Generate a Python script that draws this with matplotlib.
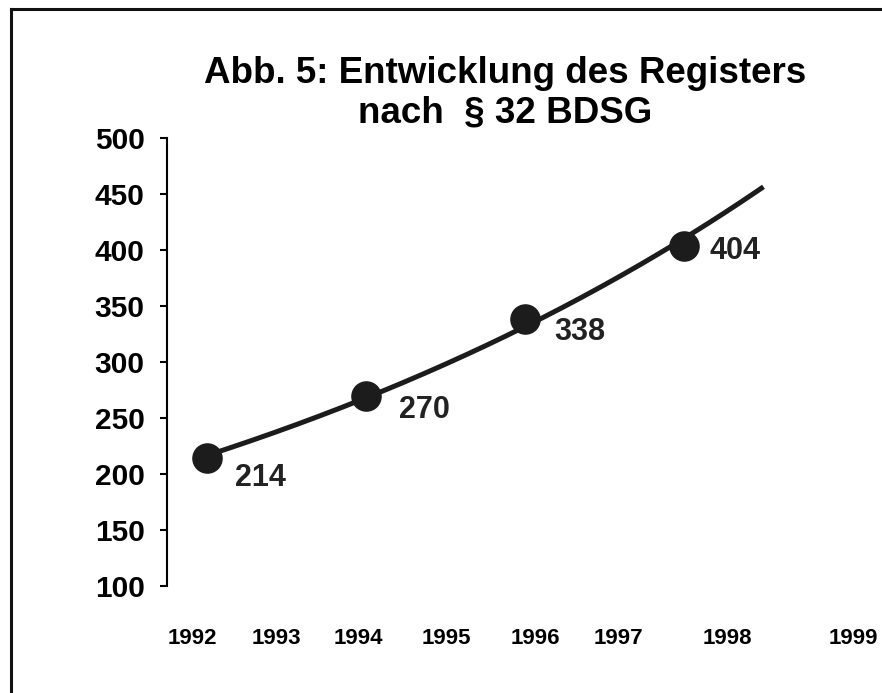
import numpy as np
import matplotlib
matplotlib.use('Agg')
import matplotlib.pyplot as plt
from matplotlib.lines import Line2D

plt.rcParams['font.family'] = ['Liberation Sans', 'DejaVu Sans']
plt.rcParams['font.weight'] = 'bold'

# DATA
point_pos = [0, 1, 2, 3]            # positions of the measured points
values = [214, 270, 338, 404]
value_labels = ['214', '270', '338', '404']
year_pos = [-0.09, 0.44, 0.956, 1.509, 2.063, 2.591, 3.27, 4.063]
year_labels = ['1992', '1993', '1994', '1995', '1996', '1997', '1998', '1999']
forecast = 0.5                      # trendline forecast forward
y_ticks = [100, 150, 200, 250, 300, 350, 400, 450, 500]

title = 'Abb. 5: Entwicklung des Registers\nnach  § 32 BDSG'

# exponential trendline (like the spreadsheet one)
b, a = np.polyfit(point_pos, np.log(values), 1)
xt = np.linspace(point_pos[0], point_pos[-1] + forecast, 200)
yt = np.exp(a + b * xt)

fig = plt.figure(figsize=(8.82, 6.93), dpi=100)
ax = fig.add_axes([0.1893, 0.1544, 1 - 0.1893, 0.8009 - 0.1544])

ax.plot(xt, yt, color='#1c1c1c', lw=3.6, solid_capstyle='butt', zorder=2)
ax.plot(point_pos, values, 'o', color='#1c1c1c', ms=21, zorder=3)

# label offsets in pixels (dx, dy)
offsets = [(28, -20), (33, -14), (29, -13), (26, -5)]
for x, v, lab, (dx, dy) in zip(point_pos, values, value_labels, offsets):
    ax.annotate(lab, (x, v), xytext=(dx * 0.72, dy * 0.72), textcoords='offset points',
                ha='left', va='center', fontsize=22, fontweight='bold', color='#222222')

ax.set_xlim(-0.25, 4.245)
ax.set_ylim(100, 500)
ax.set_yticks(y_ticks)
ax.set_yticklabels([str(t) for t in y_ticks], fontsize=21.5, fontweight='bold')
ax.set_xticks(year_pos)
ax.set_xticklabels(year_labels, fontsize=16, fontweight='bold')
ax.tick_params(axis='x', length=0, pad=30)
ax.tick_params(axis='y', length=5, width=1.5, pad=11, direction='out')

for s in ['top', 'right', 'bottom']:
    ax.spines[s].set_visible(False)
ax.spines['left'].set_linewidth(1.5)

fig.text(505 / 882, 1 - 93 / 693, title, ha='center', va='center',
         fontsize=26.5, fontweight='bold', linespacing=1.18)

# frame lines at left and top of the picture
fig.add_artist(Line2D([11 / 882, 11 / 882], [0, 1 - 9 / 693], color='#111111', lw=2.2,
                      transform=fig.transFigure))
fig.add_artist(Line2D([11 / 882, 1], [1 - 9 / 693, 1 - 9 / 693], color='#111111', lw=2.2,
                      transform=fig.transFigure))

fig.savefig('out.png', dpi=100)
